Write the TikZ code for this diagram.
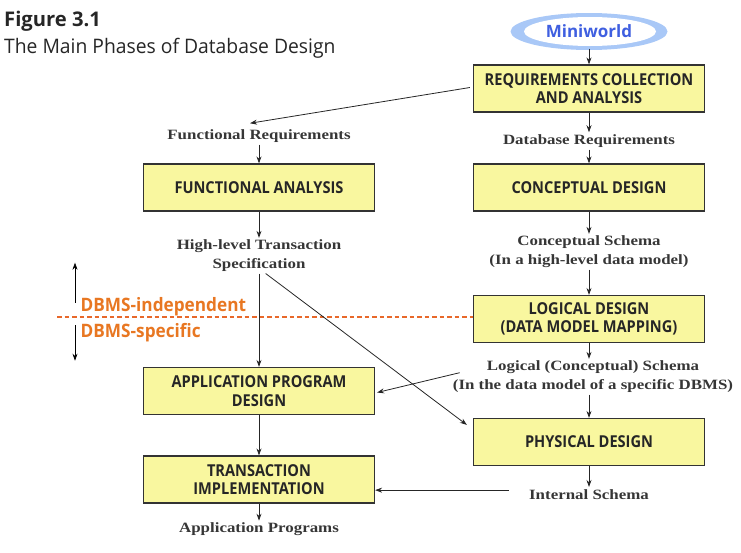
\documentclass[tikz,border=0pt]{standalone}
\usepackage{fontspec}
\setmainfont{Liberation Serif}[FakeStretch=1.19]
\newfontfamily\osans{Open Sans}
\newfontfamily\boxfont{Open Sans}[FakeStretch=0.89]
\newfontfamily\orfont{Open Sans}[FakeStretch=0.93]
\newfontfamily\ttlfont{Open Sans}[FakeStretch=0.965]
\usetikzlibrary{arrows.meta,calc}
\definecolor{boxyellow}{HTML}{F9F79F}
\definecolor{boxline}{HTML}{333333}
\definecolor{dbmsorange}{HTML}{E87722}
\definecolor{dashorange}{HTML}{E8682A}
\definecolor{miniblue}{HTML}{3F5FE0}
\definecolor{ringblue}{HTML}{A9C8F7}
\definecolor{lbltext}{HTML}{363636}
\tikzset{
  phase/.style={draw=boxline, line width=1.2pt, fill=boxyellow, minimum width=231pt, minimum height=47pt,
    align=center, font=\boxfont\bfseries\fontsize{16.4}{18.3}\selectfont, text=black!85, inner sep=0pt},
  lbl/.style={align=center, anchor=base, font=\bfseries\fontsize{14.2}{18.4}\selectfont, text=lbltext, inner sep=2pt},
  flow/.style={-{Stealth[length=7pt,width=5pt]}, line width=0.8pt, black!85},
  orangetxt/.style={font=\orfont\bfseries\fontsize{18.5}{20}\selectfont, text=dbmsorange, anchor=base west, inner sep=0pt},
  updown/.style={-{Stealth[length=7pt,width=5pt]}, line width=0.7pt, black},
  sepline/.style={draw=dashorange, dash pattern=on 4.5pt off 3pt, line width=1.3pt}
}
\begin{document}
\begin{tikzpicture}[x=1pt,y=-1pt]
\useasboundingbox (0,0) rectangle (741,552);
% title
\node[anchor=base west, inner sep=0pt, font=\osans\bfseries\fontsize{20.2}{24}\selectfont, text=black!85] (fig) at (4,26.7) {Figure 3.1};
\node[anchor=base west, inner sep=0pt, font=\ttlfont\fontsize{20}{24}\selectfont, text=black!85] (ttl) at (4,53) {The Main Phases of Database Design};
% miniworld
\fill[ringblue] (589,31.5) ellipse (78.5pt and 18.5pt);
\fill[white] (590,31.5) ellipse (66pt and 14.5pt);
\node[font=\osans\bfseries\fontsize{17}{20}\selectfont, text=miniblue, inner sep=0pt, minimum height=34pt, minimum width=150pt] (mini) at (589,31.5) {Miniworld};
% right column
\node[phase] (req) at (589,88.5) {REQUIREMENTS COLLECTION\\AND ANALYSIS};
\node[lbl] (dbreq) at (589,144.3) {Database Requirements};
\node[phase] (cd) at (589,187.5) {CONCEPTUAL DESIGN};
\node[lbl] (csch) at (589,264.3) {Conceptual Schema\\(In a high-level data model)};
\node[phase] (ld) at (589,319) {LOGICAL DESIGN\\(DATA MODEL MAPPING)};
\node[lbl] (lsch) at (593,389.3) {Logical (Conceptual) Schema\\(In the data model of a specific DBMS)};
\node[phase] (pd) at (589,442) {PHYSICAL DESIGN};
\node[lbl] (isch) at (589,499) {Internal Schema};
% left column
\node[lbl] (freq) at (259,139.3) {Functional Requirements};
\node[phase] (fa) at (259,187.5) {FUNCTIONAL ANALYSIS};
\node[lbl] (spec) at (259,268.3) {High-level Transaction\\Specification};
\node[phase] (apd) at (259,391) {APPLICATION PROGRAM\\DESIGN};
\node[phase] (ti) at (259,479.5) {TRANSACTION\\IMPLEMENTATION};
\node[lbl] (appp) at (259,532.7) {Application Programs};
% dbms separation
\coordinate (sepstart) at (57,317);
\draw[sepline] (sepstart) -- (sepstart -| ld.west);
\node[orangetxt] (dbi) at (80.5,311.7) {DBMS-independent};
\node[orangetxt] (dbs) at (80.5,337.3) {DBMS-specific};
\coordinate (upbase) at (75,302.7);
\coordinate (uptip) at (75,262.7);
\coordinate (dnbase) at (75,325);
\coordinate (dntip) at (75,360.7);
\draw[updown] (upbase) -- (uptip);
\draw[updown] (dnbase) -- (dntip);
% connectors
\draw[flow] (mini.south) -- (req.north);
\draw[flow] (req.south) -- (dbreq.north);
\draw[flow] (dbreq.south) -- (cd.north);
\draw[flow] (cd.south) -- (csch.north);
\draw[flow] (csch.south) -- (ld.north);
\draw[flow] (ld.south) -- (ld.south |- lsch.north);
\draw[flow] (ld.south |- lsch.south) -- (pd.north);
\draw[flow] (pd.south) -- (isch.north);
\draw[flow] ($(req.west)+(-3,-1)$) -- ($(freq.north)+(-9,-4)$);
\draw[flow] (freq.south) -- (fa.north);
\draw[flow] (fa.south) -- (spec.north);
\draw[flow] (spec.south) -- (apd.north);
\draw[flow] (apd.south) -- (ti.north);
\draw[flow] (ti.south) -- (appp.north);
\draw[flow] ($(spec.south)+(6.7,0)$) -- ($(pd.north west)+(-6,7)$);
\draw[flow] ($(lsch.west)+(9,-4)$) -- ($(apd.east)+(2,1.5)$);
\coordinate (isend) at ($(isch.west)+(-18,-4)$);
\draw[flow] (isend) -- (isend -| ti.east);
\end{tikzpicture}
\end{document}
